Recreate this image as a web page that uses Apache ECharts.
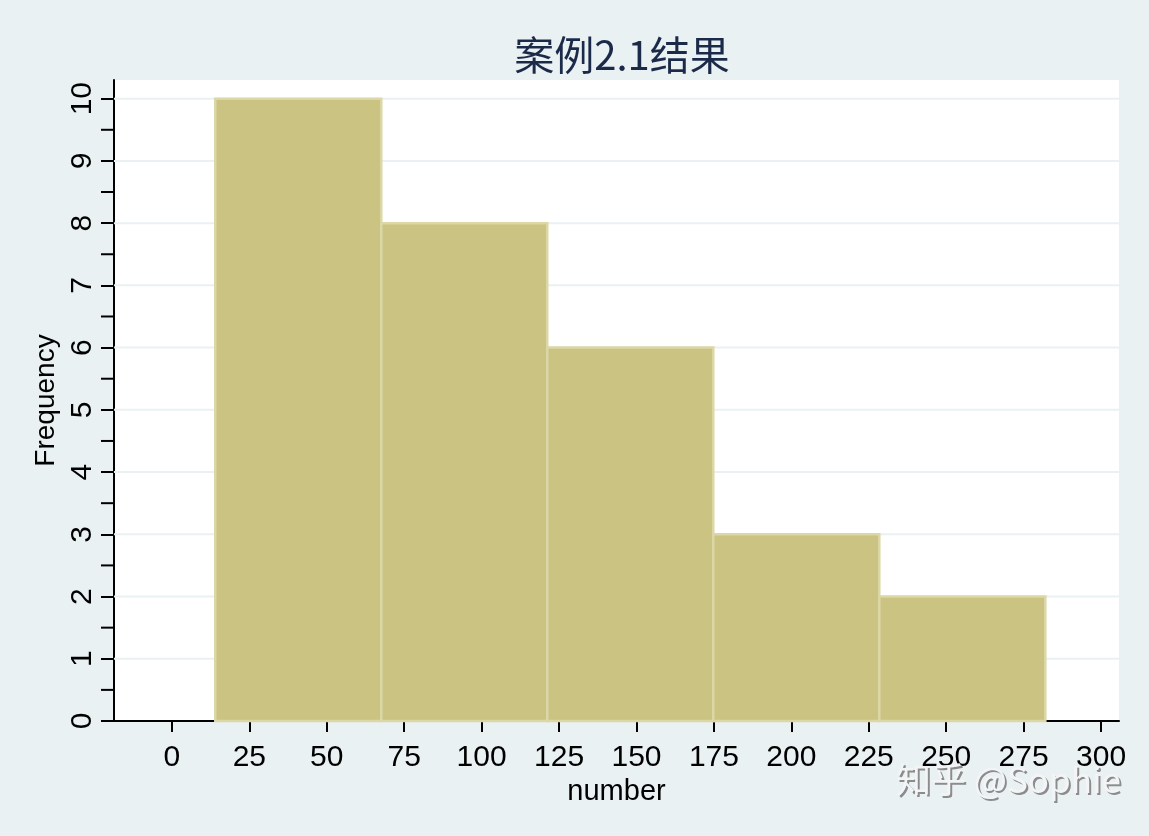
<!DOCTYPE html>
<html>
<head>
<meta charset="utf-8">
<script src="https://cdn.jsdelivr.net/npm/echarts@6/dist/echarts.min.js"></script>
<style>
html,body{margin:0;padding:0;background:#eaf1f3;}
#chart{width:1149px;height:836px;}
</style>
</head>
<body>
<div id="chart"></div>
<script>
const titleText = '案例2.1结果';
const xLabel = 'number';
const yLabel = 'Frequency';
const watermark = '知乎 @Sophie';
const binStarts = [14, 67.6, 121.2, 174.8, 228.4];
const binWidth = 53.6;
const frequencies = [10, 8, 6, 3, 2];
const xTicks = [0, 25, 50, 75, 100, 125, 150, 175, 200, 225, 250, 275, 300];
const yTicks = [0, 1, 2, 3, 4, 5, 6, 7, 8, 9, 10];

const data = binStarts.map((s, i) => [s, s + binWidth, frequencies[i]]);
const font = "'Liberation Sans Narrow', 'Arial Narrow', 'Liberation Sans', Arial, sans-serif";
const wmFont = "'Noto Sans CJK SC', sans-serif";

const chart = echarts.init(document.getElementById('chart'));
chart.setOption({
  backgroundColor: '#eaf1f3',
  animation: false,
  title: {
    text: titleText,
    left: 617, top: 30, textAlign: 'center',
    textStyle: {fontFamily: "'Noto Sans CJK SC', sans-serif", fontWeight: 'normal', fontSize: 40, color: '#1c2a4a'}
  },
  grid: {left: 114, right: 30, top: 80, bottom: 115, backgroundColor: '#ffffff', show: true, borderWidth: 0},
  xAxis: {
    type: 'value', min: -18.7, max: 305.8,
    name: xLabel, nameLocation: 'middle', nameGap: 47,
    nameTextStyle: {fontFamily: "'Liberation Sans', Arial, sans-serif", fontSize: 29, color: '#000'},
    axisLine: {show: true, onZero: false, lineStyle: {color: '#000', width: 2}},
    axisTick: {show: true, length: 11, lineStyle: {color: '#000', width: 2}, customValues: xTicks},
    axisLabel: {fontFamily: font, fontSize: 30, color: '#000', margin: 22, customValues: xTicks, formatter: v => String(v)},
    splitLine: {show: false}
  },
  yAxis: {
    type: 'value', min: 0, max: 10.3,
    name: yLabel, nameLocation: 'middle', nameGap: 38, nameRotate: 90,
    nameTextStyle: {fontFamily: "'Liberation Sans', Arial, sans-serif", fontSize: 28, color: '#000'},
    axisLine: {show: true, onZero: false, lineStyle: {color: '#000', width: 2}},
    axisTick: {show: true, length: 13, lineStyle: {color: '#000', width: 2}, customValues: yTicks},
    minorTick: {show: false},
    axisLabel: {fontFamily: font, fontSize: 30, color: '#000', rotate: 90, margin: 16, customValues: yTicks},
    splitLine: {show: false}
  },
  graphic: [
    {type: 'text', right: 26, top: 764, z: 99,
     style: {text: watermark, fontFamily: wmFont, fontSize: 35, fill: '#8c8c8c'}},
    {type: 'text', right: 28, top: 762, z: 100,
     style: {text: watermark, fontFamily: wmFont, fontSize: 35, fill: '#f3f4f5'}}
  ],
  series: [
    {
      type: 'custom',
      coordinateSystem: 'cartesian2d',
      silent: true,
      z: 1,
      renderItem: function(params, api) {
        if (params.dataIndex !== 0) return;
        const children = [];
        for (let k = 1; k <= 10; k++) {
          const p0 = api.coord([-18.7, k]);
          const p1 = api.coord([305.8, k]);
          children.push({type: 'line', shape: {x1: p0[0], y1: p0[1], x2: p1[0], y2: p1[1]},
            style: {stroke: '#eaf1f3', lineWidth: 2}});
        }
        for (let k = 0.5; k < 10; k += 1) {
          const p = api.coord([-18.7, k]);
          children.push({type: 'line', shape: {x1: p[0] - 13, y1: p[1], x2: p[0], y2: p[1]},
            style: {stroke: '#000', lineWidth: 2}});
        }
        return {type: 'group', children: children};
      },
      data: [[0]]
    },
    {
      type: 'custom',
      coordinateSystem: 'cartesian2d',
      z: 2,
      encode: {x: [0, 1], y: 2},
      renderItem: function(params, api) {
        const a = api.coord([api.value(0), api.value(2)]);
        const b = api.coord([api.value(1), 0]);
        return {
          type: 'rect',
          shape: {x: a[0], y: a[1], width: b[0] - a[0], height: b[1] - a[1]},
          style: {fill: '#cbc382', stroke: '#dcd7a6', lineWidth: 2.5}
        };
      },
      data: data
    }
  ]
});
</script>
</body>
</html>
